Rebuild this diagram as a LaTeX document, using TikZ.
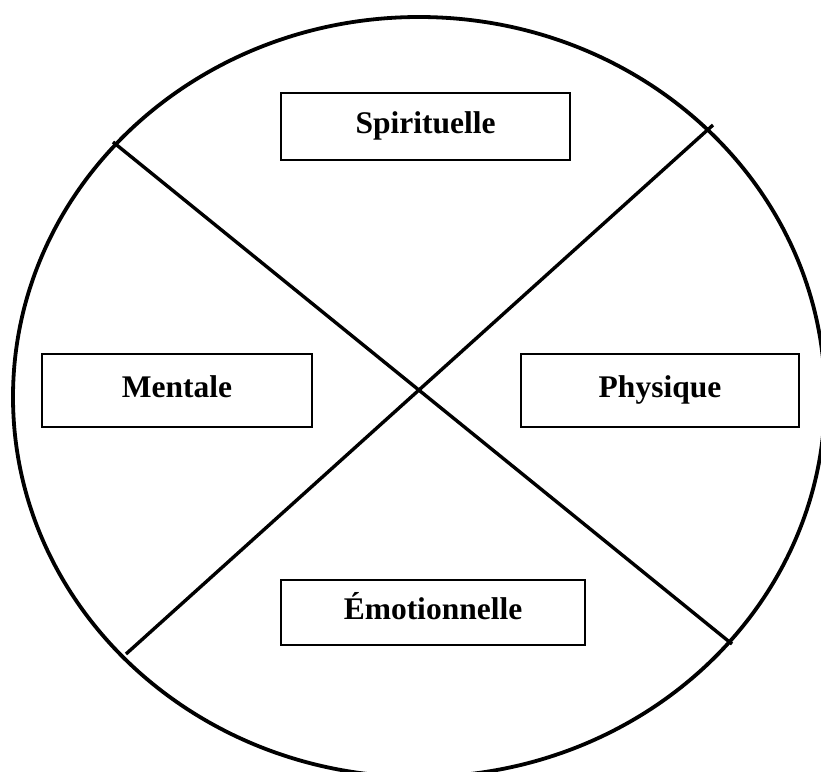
\documentclass[tikz,border=0pt]{standalone}
\usepackage{fontspec}
\setmainfont{Liberation Serif}
\usetikzlibrary{positioning}

\begin{document}
\begin{tikzpicture}[x=1pt, y=-1pt]
\tikzset{dimbox/.style={draw, line width=1.6pt, fill=white, inner sep=0pt, text height=20pt, text depth=7pt, font=\fontsize{31.5}{36}\selectfont\bfseries}}
    \useasboundingbox (0,0) rectangle (821,771);

    \coordinate (C) at (419,397);
    \draw[line width=3.8pt] (C) ellipse [x radius=406pt, y radius=380pt];

    \coordinate (UL) at (113,142);
    \coordinate (LR) at (732,644);

    \coordinate (UR) at (713,125);
    \coordinate (LL) at (126,654);

    \draw[line width=3.4pt] (UL) -- (LR);
    \draw[line width=3.4pt] (UR) -- (LL);
% % % % % % % % % % % % % % % % % % %
    \node[dimbox, minimum width=289pt, minimum height=67pt] (spirit) at (425.5,126.5) {Spirituelle};
    \node[dimbox, minimum width=270pt, minimum height=73pt] (mental) at (177,390.5) {Mentale};
    \node[dimbox, minimum width=278pt, minimum height=73pt] (physic) at (660,390.5) {Physique};
    \node[dimbox, minimum width=304pt, minimum height=65pt] (emotion) at (433,612.5) {Émotionnelle};
\end{tikzpicture}
\end{document}
